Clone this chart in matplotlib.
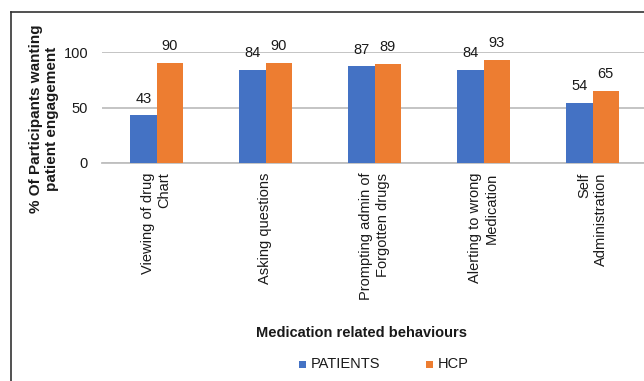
import matplotlib
matplotlib.use("Agg")
import matplotlib.pyplot as plt
from matplotlib.lines import Line2D
from matplotlib.patches import Rectangle
import numpy as np

plt.rcParams['font.family'] = ['Liberation Sans', 'DejaVu Sans']

categories = ["Viewing of drug\nChart", "Asking questions", "Prompting admin of\nForgotten drugs",
              "Alerting to wrong\nMedication", "Self\nAdministration"]
patients = [43, 84, 87, 84, 54]
hcp = [90, 90, 89, 93, 65]
yticks = [0, 50, 100]

BLUE = "#4472C4"
ORANGE = "#ED7D31"
GRID = "#BFBFBF"
TEXT = "#1a1a1a"

W, H = 644, 381
fig = plt.figure(figsize=(W / 100, H / 100), dpi=100)

def fx(px):
    return px / W

def fy(py):
    return 1 - py / H

# plot area
left, right, top, bottom = 102, 647, 52, 163
ax = fig.add_axes([fx(left), fy(bottom), fx(right - left), (bottom - top) / H])

x = np.arange(len(categories))
bw = 0.24
ax.bar(x - bw / 2, patients, bw, color=BLUE, label="PATIENTS", zorder=3)
ax.bar(x + bw / 2, hcp, bw, color=ORANGE, label="HCP", zorder=3)

for xi, v in zip(x - bw / 2, patients):
    ax.annotate(str(v), (xi, v), xytext=(0, 7), textcoords="offset points",
                ha="center", va="bottom", fontsize=10.5, color=TEXT)
for xi, v in zip(x + bw / 2, hcp):
    ax.annotate(str(v), (xi, v), xytext=(0, 7), textcoords="offset points",
                ha="center", va="bottom", fontsize=10.5, color=TEXT)

ax.set_xlim(-0.5, len(categories) - 0.5)
ax.set_ylim(0, 100)
ax.set_yticks(yticks)
ax.set_yticklabels([str(t) for t in yticks], fontsize=10.5, color=TEXT)
ax.tick_params(axis="y", length=0, pad=10)
ax.yaxis.grid(True, color=GRID, linewidth=1.3, zorder=0)
ax.set_axisbelow(True)
for s in ["top", "right", "left"]:
    ax.spines[s].set_visible(False)
ax.spines["bottom"].set_color(GRID)
ax.spines["bottom"].set_linewidth(1.3)

ax.set_xticks(x)
ax.set_xticklabels(categories, rotation=90, fontsize=10.5, color=TEXT,
                   ha="center", va="top", multialignment="right")
ax.tick_params(axis="x", length=0, pad=7)

# axis titles
fig.text(fx(44), fy(119), "% Of Participants wanting\npatient engagement", rotation=90,
         ha="center", va="center", fontsize=11, fontweight="bold", color=TEXT,
         multialignment="center")
fig.text(fx(361), fy(333), "Medication related behaviours", ha="center", va="center",
         fontsize=10.5, fontweight="bold", color=TEXT)

# legend
for sx, tx, col, lab in [(299, 311, BLUE, "PATIENTS"), (426, 438, ORANGE, "HCP")]:
    fig.patches.append(Rectangle((fx(sx), fy(368)), 7 / W, 7 / H, transform=fig.transFigure,
                                 facecolor=col, edgecolor="none"))
    fig.text(fx(tx), fy(364.5), lab, ha="left", va="center", fontsize=10.5, color=TEXT)

# chart frame
fig.add_artist(Line2D([fx(11), fx(11)], [fy(12), 0], transform=fig.transFigure,
                      color="#333333", linewidth=1.2))
fig.add_artist(Line2D([fx(11), 1], [fy(12), fy(12)], transform=fig.transFigure,
                      color="#333333", linewidth=1.2))

fig.savefig("out.png", dpi=100)
